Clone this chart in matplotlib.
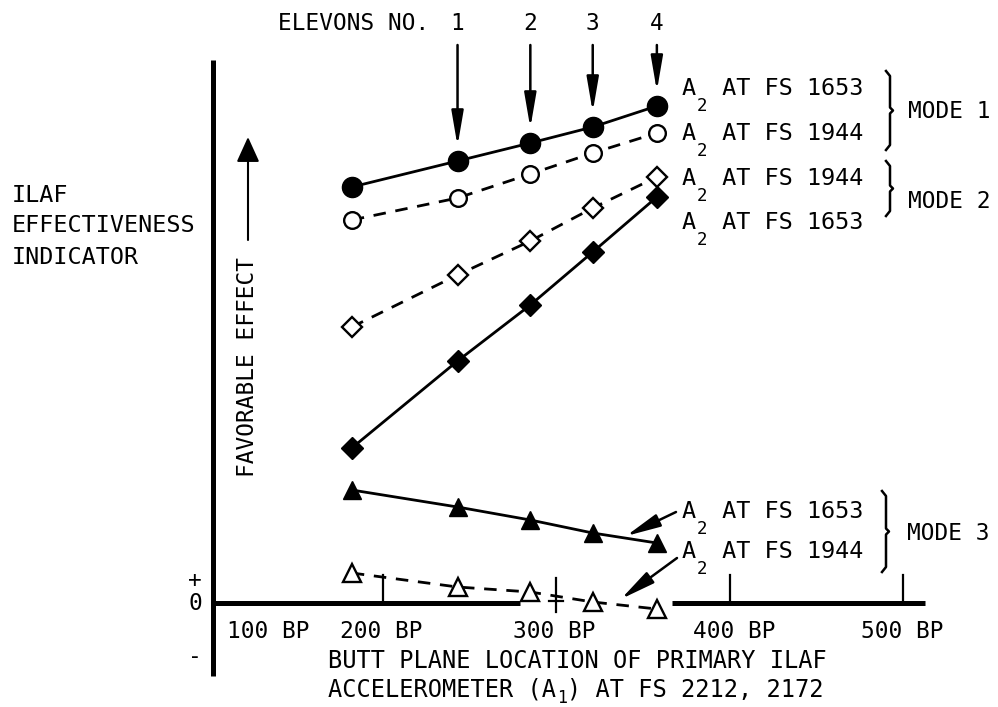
import matplotlib
matplotlib.use("Agg")
import matplotlib.pyplot as plt

plt.rcParams["font.family"] = ["DejaVu Sans Mono", "DejaVu Sans"]

# Butt plane location of the primary accelerometer (BP) and indicator values
butt_plane = [182, 243, 285, 321, 358]
mode1_fs1653 = [41.6, 44.2, 46.0, 47.6, 49.7]
mode1_fs1944 = [38.3, 40.5, 42.9, 45.0, 47.0]
mode2_fs1944 = [27.6, 32.8, 36.2, 39.5, 42.6]
mode2_fs1653 = [15.5, 24.2, 29.8, 35.1, 40.6]
mode3_fs1653 = [11.3, 9.6, 8.3, 7.0, 6.0]
mode3_fs1944 = [3.0, 1.6, 1.1, 0.1, -0.6]

elevon_numbers = ["1", "2", "3", "4"]
tick_values = [100, 200, 300, 400, 500]
tick_labels = ["100 BP", "200 BP", "300 BP", "400 BP", "500 BP"]

W, H = 998, 707
fig = plt.figure(figsize=(W / 100, H / 100), dpi=100)
ax = fig.add_axes([0, 0, 1, 1])
ax.set_axis_off()
renderer = fig.canvas.get_renderer()

# scale: 200 BP at pixel 383, 173.33 px per 100 BP; zero indicator at pixel row 603
XS = 1.7333
def bx(px):
    return 200 + (px - 383) / XS
def vy(py):
    return (603 - py) / 10.0

ax.set_xlim(bx(0), bx(W))
ax.set_ylim(vy(H), vy(0))

def fig_at(px, py):
    return px / W, 1 - py / H

FS = 16.4
K = "black"

def sub_text(px, py, head, sub, tail, fs, sub_fs=12.5, drop=16):
    """Text with a lowered subscript, drawn piece by piece (py is the baseline row)."""
    x, y = fig_at(px, py)
    t = fig.text(x, y, head, ha="left", va="baseline", fontsize=fs)
    right = t.get_window_extent(renderer).x1
    x2, y2 = fig_at(right + 1, py + drop)
    t2 = fig.text(x2, y2, sub, ha="left", va="baseline", fontsize=sub_fs)
    right2 = t2.get_window_extent(renderer).x1
    x3, _ = fig_at(right2, py)
    fig.text(x3, y, tail, ha="left", va="baseline", fontsize=fs)

# axes frame
ax.plot([bx(213), bx(213)], [vy(676), vy(60)], color=K, lw=3.6, solid_capstyle="butt")
ax.plot([bx(213), 279], [0, 0], color=K, lw=3.6, solid_capstyle="butt")
ax.plot([367, bx(925)], [0, 0], color=K, lw=3.6, solid_capstyle="butt")
for t in [200, 400, 500]:
    ax.plot([t, t], [0, 2.8], color=K, lw=1.6)
ax.plot([300, 300], [-0.9, 2.5], color=K, lw=1.6)
ax.plot([296, 304], [0.2, 0.2], color=K, lw=1.6)

# tick labels
label_pos = {100: 268, 200: 381, 300: 554, 400: 734, 500: 902}
for v, s in zip(tick_values, tick_labels):
    x, y = fig_at(label_pos[v], 632)
    fig.text(x, y, s, ha="center", va="center", fontsize=FS)

for s, py in [("+", 580), ("0", 603), ("-", 656)]:
    x, y = fig_at(195, py)
    fig.text(x, y, s, ha="center", va="center", fontsize=FS)

# axis titles
x, y = fig_at(328, 661)
fig.text(x, y, "BUTT PLANE LOCATION OF PRIMARY ILAF", ha="left", va="center", fontsize=FS + 0.6)
sub_text(328, 696, "ACCELEROMETER (A", "1", ") AT FS 2212, 2172", FS + 0.6,
         sub_fs=12, drop=7)

for s, py in [("ILAF", 195), ("EFFECTIVENESS", 225), ("INDICATOR", 257)]:
    x, y = fig_at(12, py)
    fig.text(x, y, s, ha="left", va="center", fontsize=FS + 0.4)

x, y = fig_at(247, 367)
fig.text(x, y, "FAVORABLE EFFECT", ha="center", va="center", rotation=90, fontsize=FS)
ax.annotate("", xy=(bx(248), vy(137)), xytext=(bx(248), vy(240)),
            arrowprops=dict(arrowstyle="-|>,head_length=1.1,head_width=0.5",
                            mutation_scale=14, lw=1.5, color=K, shrinkA=0, shrinkB=0))

# data series
LW = 2.0
dash = (4.5, 3.5)
ax.plot(butt_plane, mode1_fs1653, color=K, lw=LW, marker="o", ms=14.5,
        mfc=K, mec=K, zorder=3)
ax.plot(butt_plane, mode1_fs1944, color=K, lw=LW, dashes=dash, marker="o", ms=12,
        mfc="white", mec=K, mew=1.7, zorder=3)
ax.plot(butt_plane, mode2_fs1944, color=K, lw=LW, dashes=dash, marker="D", ms=10,
        mfc="white", mec=K, mew=1.7, zorder=3)
ax.plot(butt_plane, mode2_fs1653, color=K, lw=LW, marker="D", ms=11.5,
        mfc=K, mec=K, zorder=3)
ax.plot(butt_plane, mode3_fs1653, color=K, lw=LW, marker="^", ms=13,
        mfc=K, mec=K, zorder=3)
ax.plot(butt_plane, mode3_fs1944, color=K, lw=LW, dashes=dash, marker="^", ms=13,
        mfc="white", mec=K, mew=1.7, zorder=3)

# elevon locations
x, y = fig_at(278, 23)
fig.text(x, y, "ELEVONS NO.", ha="left", va="center", fontsize=FS)
for num, bp, v in zip(elevon_numbers, butt_plane[1:], mode1_fs1653[1:]):
    ax.text(bp, vy(23), num, ha="center", va="center", fontsize=FS)
    ax.annotate("", xy=(bp, v + 1.5), xytext=(bp, vy(45)),
                arrowprops=dict(arrowstyle="-|>,head_length=1.05,head_width=0.18",
                                mutation_scale=20, lw=1.8, color=K,
                                shrinkA=0, shrinkB=0))

# series labels
labels = [("1653", 95), ("1944", 140), ("1944", 185), ("1653", 229),
          ("1653", 518), ("1944", 558)]
for fs_no, py in labels:
    sub_text(682, py, "A", "2", " AT FS " + fs_no, FS + 0.5)

# mode brackets
def bracket(px, top, bot):
    mid = (top + bot) / 2
    xs = [px - 4, px, px, px + 3, px, px, px - 4]
    ys = [top - 2, top + 3, mid - 3, mid, mid + 3, bot - 3, bot + 2]
    ax.plot([bx(p) for p in xs], [vy(p) for p in ys], color=K, lw=1.8)

bracket(890, 73, 148)
bracket(890, 163, 214)
bracket(886, 493, 570)
for s, px, py in [("MODE 1", 908, 112), ("MODE 2", 908, 202), ("MODE 3", 907, 533)]:
    x, y = fig_at(px, py)
    fig.text(x, y, s, ha="left", va="center", fontsize=FS)

# pointers from the mode 3 labels to their lines
for (x0, y0), (x1, y1) in [((676, 512), (626, 536)), ((677, 558), (621, 599))]:
    ax.annotate("", xy=(bx(x1), vy(y1)), xytext=(bx(x0), vy(y0)),
                arrowprops=dict(arrowstyle="-|>,head_length=1.05,head_width=0.2",
                                mutation_scale=20, lw=1.8, color=K,
                                shrinkA=0, shrinkB=0))

fig.savefig("out.png", dpi=100, facecolor="white")
